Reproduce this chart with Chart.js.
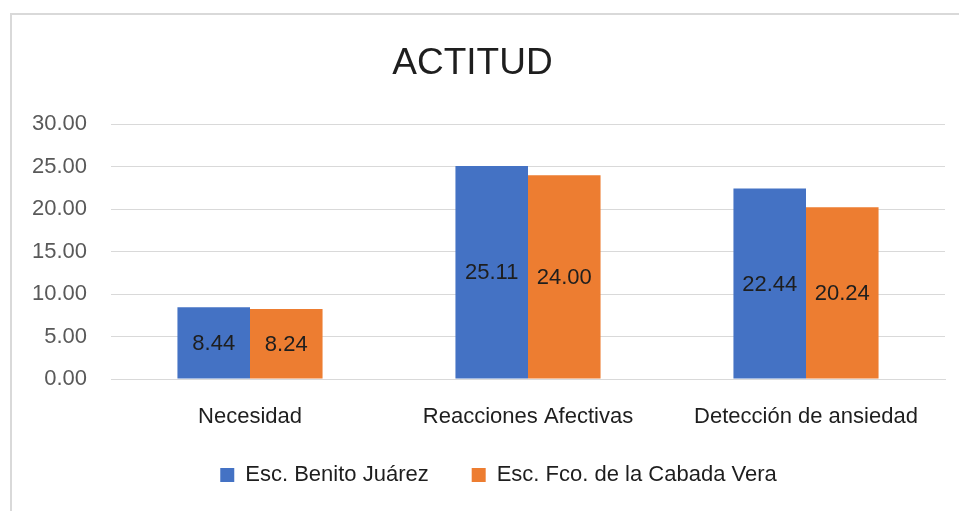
<!DOCTYPE html>
<html>
<head>
<meta charset="utf-8">
<script src="https://cdn.jsdelivr.net/npm/chart.js@4"></script>
<style>
  html, body { margin: 0; padding: 0; background: #ffffff; }
  #wrap { position: relative; width: 959px; height: 511px; overflow: hidden; }
  #frame { position: absolute; left: 10px; top: 13px; width: 2000px; height: 2000px;
           border-left: 2px solid #d9d9d9; border-top: 2px solid #d9d9d9; }
  canvas { position: absolute; left: 0; top: 0; }
</style>
</head>
<body>
<div id="wrap">
  <div id="frame"></div>
  <canvas id="c" width="959" height="511"></canvas>
</div>
<script>
const categories = ["Necesidad", "Reacciones Afectivas", "Detección de ansiedad"];
const seriesNames = ["Esc. Benito Juárez", "Esc. Fco. de la Cabada Vera"];
const benitoJuarez = [8.44, 25.11, 22.44];
const cabadaVera = [8.24, 24.00, 20.24];
const yTicks = [0, 5, 10, 15, 20, 25, 30];
const chartTitle = "ACTITUD";

const FONT = "'Liberation Sans', Arial, sans-serif";
const TITLE_FONT = "'Liberation Sans Narrow', 'Liberation Sans', Arial, sans-serif";

const dataLabels = {
  id: 'dataLabels',
  afterDatasetsDraw(chart) {
    const ctx = chart.ctx;
    ctx.save();
    ctx.font = "22px " + FONT;
    ctx.fillStyle = "#1e1e1e";
    ctx.textAlign = "center";
    ctx.textBaseline = "middle";
    chart.data.datasets.forEach((ds, i) => {
      const meta = chart.getDatasetMeta(i);
      meta.data.forEach((bar, j) => {
        const v = ds.data[j];
        const yMid = (bar.y + bar.base) / 2;
        ctx.fillText(v.toFixed(2), bar.x, yMid + 1);
      });
    });
    ctx.restore();
  }
};

const legendShift = {
  id: 'legendShift',
  afterLayout(chart) {
    const lg = chart.legend;
    if (lg) { lg.top -= 10; lg.bottom -= 10; lg.left += 26; lg.right += 26; }
  }
};

new Chart(document.getElementById('c'), {
  type: 'bar',
  data: {
    labels: categories,
    datasets: [
      { label: seriesNames[0], data: benitoJuarez, backgroundColor: '#4472C4',
        categoryPercentage: 0.522, barPercentage: 1.0 },
      { label: seriesNames[1], data: cabadaVera, backgroundColor: '#ED7D31',
        categoryPercentage: 0.522, barPercentage: 1.0 }
    ]
  },
  options: {
    responsive: false,
    animation: false,
    devicePixelRatio: 1,
    layout: { padding: { left: 0, right: 14, top: 0, bottom: 5 } },
    plugins: {
      title: {
        display: true,
        text: chartTitle,
        color: '#1e1e1e',
        font: { family: TITLE_FONT, size: 37, weight: 'normal' },
        padding: { top: 42, bottom: 38 }
      },
      legend: {
        position: 'bottom',
        labels: {
          color: '#1e1e1e',
          font: { family: FONT, size: 22 },
          boxWidth: 14,
          boxHeight: 14,
          padding: 43
        }
      },
      tooltip: { enabled: false }
    },
    scales: {
      x: {
        grid: { display: false, drawTicks: false },
        border: { display: true, color: '#d9d9d9', width: 1 },
        ticks: { color: '#1e1e1e', font: { family: FONT, size: 22 }, padding: 25, maxRotation: 0 },
        afterFit(scale) { scale.height = 52; }
      },
      y: {
        min: 0, max: 30,
        afterBuildTicks(scale) { scale.ticks = yTicks.map(v => ({ value: v })); },
        grid: { color: '#d9d9d9', lineWidth: 1, drawTicks: false },
        border: { display: false },
        ticks: {
          color: '#595959',
          font: { family: FONT, size: 22 },
          padding: 24,
          callback: (v) => Number(v).toFixed(2)
        },
        afterFit(scale) { scale.width = 111; }
      }
    }
  },
  plugins: [dataLabels, legendShift]
});
</script>
</body>
</html>
